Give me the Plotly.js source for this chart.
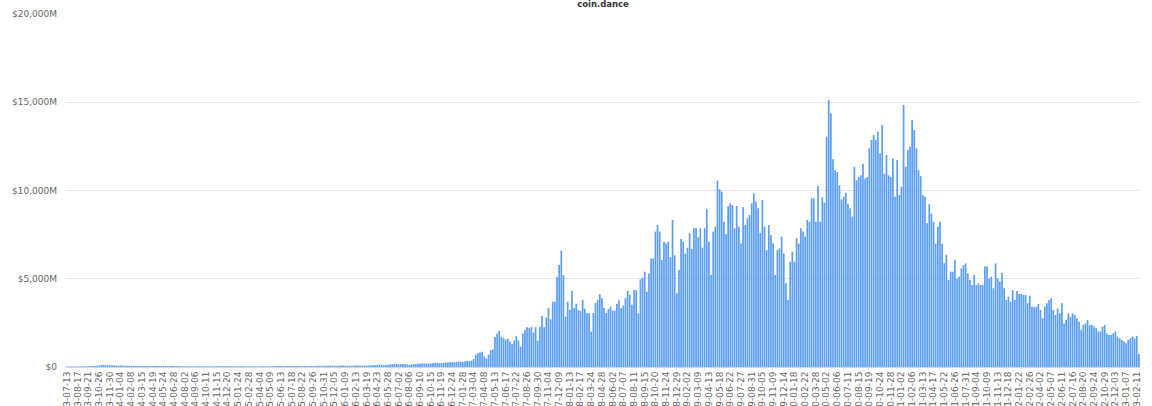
<!DOCTYPE html>
<html>
<head>
<meta charset="utf-8">
<script src="https://cdn.plot.ly/plotly-3.0.1.min.js"></script>
<style>
  html, body { margin: 0; padding: 0; background: #ffffff; }
  #chart { width: 1152px; height: 406px; }
</style>
</head>
<body>
<div id="chart"></div>
<script>
// Weekly series, first week 2013-07-13, values in $ millions
const startDate = "2013-07-13";
const valuesM = [
  // 2013-07 .. 2013-12
  25, 30, 28, 35, 32, 30, 38, 40, 36, 42, 45, 50, 55, 60, 70, 85, 110, 130, 120, 100, 95, 105, 90, 80, 85,
  // 2014 H1
  90, 80, 70, 75, 65, 60, 70, 65, 60, 58, 55, 62, 60, 55, 50, 58, 65, 70, 62, 60, 55, 52, 50, 55, 58, 52, 50,
  // 2014 H2
  48, 50, 45, 42, 48, 45, 40, 42, 45, 48, 44, 40, 42, 45, 40, 38, 42, 44, 46, 42, 40, 45, 48, 50, 46, 44,
  // 2015 H1
  45, 42, 48, 50, 46, 44, 40, 42, 45, 40, 38, 42, 40, 45, 48, 44, 42, 40, 44, 46, 50, 55, 52, 48, 50, 55,
  // 2015 H2
  60, 58, 55, 52, 50, 48, 52, 55, 50, 48, 52, 60, 65, 70, 75, 68, 65, 70, 75, 80, 78, 72, 70, 75, 80, 78,
  // 2016 H1
  75, 72, 70, 75, 78, 80, 85, 82, 78, 80, 85, 90, 95, 100, 110, 120,
  130, 120, 110, 115, 125, 140, 160, 180, 170, 150,
  160, 175, 165, 140, 130, 145, 160, 170, 180, 190,
  200, 210, 190, 185, 205, 220, 240, 230, 215, 225,
  245, 260, 250, 270, 280, 265, 290, 310, 300, 285,
  320, 350, 330, 360,
  // 2017 ..
  450, 700, 780, 820, 870, 600, 480, 700, 950, 1000,
  1700, 1900, 2040, 1700, 1650, 1550, 1600, 1450, 1300, 1500,
  1750, 1500, 1150, 1900, 2100, 2250, 2200, 2260, 1950, 2250,
  1500, 2260, 2900, 2250, 2800, 3350, 2700, 3700, 3700, 5100,
  5800, 6600, 5200, 2850, 3700, 3250, 4320, 3340, 3590, 3230,
  3170, 3800, 3300, 3040, 3060, 2000, 3060, 3620, 3800, 4130,
  3890, 3340, 3060, 3280, 3420, 3200, 3200, 3590, 3780, 3340,
  3480, 3890, 4320, 4090, 3530, 4360, 4360, 3040, 4970, 5060,
  5400, 4260, 5300, 6150, 6150, 7670, 8050, 7670, 6060, 7100,
  7000, 7100, 6230, 8330, 6330, 4170, 5500, 7250, 7100, 6420,
  6760, 7580, 6700, 7860, 7860, 7350, 7860, 6760, 7860, 8940,
  7100, 5210, 7670, 7950, 10560, 10070, 9940, 8230, 7530, 9120,
  9270, 9180, 7860, 9120, 7950, 7000, 9050, 8050, 8420, 8610,
  9270, 9840, 9370, 8990, 7600,
  9460, 7950, 6630, 8040, 7480, 7010, 5210, 6630, 6720, 7390,
  6440, 4740, 3800, 5970, 6530, 5970, 7290, 6990, 7860, 7670,
  7390, 8330, 8230, 9560, 9560, 8230, 10270, 8230, 9610, 9310,
  13050, 15130, 14370, 11770, 11150, 11050, 10300, 9500, 9650, 9870,
  9250, 8990, 8520, 11350, 10580, 10770, 10860, 11520, 10680, 10770,
  12390, 12860, 13150, 12860, 13340, 12110, 13710, 10960, 12010, 10860,
  10770, 11820, 9650, 11730, 9740, 10210, 14840, 11350, 12300, 12480,
  14000, 13430, 12390, 11150, 10810, 9740, 9650, 8140, 9220, 8690,
  8230, 6990, 7950, 8230, 6990, 5880, 6350, 4930, 5400, 5400,
  6060, 5020, 5120,
  5590, 5780, 5870, 5310, 4930, 4650, 5210, 4650, 4740, 4650,
  4650, 5690, 5690, 5020, 5120, 4460, 5870, 5020, 4840, 5340,
  4460, 3800, 3990, 3700, 4360, 3800, 4310, 4140, 4140, 4080,
  4080, 3610, 4030, 3420, 3380, 3420, 3570, 3230, 2760, 3420,
  3610, 3800, 3890, 3230, 2950, 3320, 3040, 3610, 2470, 2660,
  3040, 2850, 3040, 2950, 2760, 2570, 2100, 2380, 2470, 2660,
  2380, 2380, 2290, 2190, 2020, 2020, 2290, 2380, 1910, 1810,
  1810, 1910, 2020, 1720, 1620, 1530, 1440, 1340, 1530, 1620,
  1720, 1620, 1760, 740
];

const yTickVals = [0, 5000, 10000, 15000, 20000];
const yTickText = ["$0", "$5,000M", "$10,000M", "$15,000M", "$20,000M"];
const tickEvery = 5;

// weekly category labels
const weekDates = valuesM.map(function (_, i) {
  const t = Date.parse(startDate + "T00:00:00Z") + i * 7 * 86400000;
  return new Date(t).toISOString().slice(0, 10);
});
const tickDates = weekDates.filter(function (_, i) { return i % tickEvery === 0; });
// the reference shows only the visible tail of each date label (e.g. "3-07-13")
const tickLabels = tickDates.map(function (d) { return d.slice(3); });

const font = "DejaVu Sans, Verdana, sans-serif";

Plotly.newPlot("chart", [{
  type: "bar",
  x: weekDates,
  y: valuesM,
  marker: { color: "#5c9ff0", line: { width: 0 } },
  hoverinfo: "skip"
}], {
  width: 1152,
  height: 406,
  margin: { l: 66, r: 12, t: 14, b: 39, pad: 0 },
  paper_bgcolor: "#ffffff",
  plot_bgcolor: "#ffffff",
  bargap: 0.2,
  showlegend: false,
  title: {
    text: "<b>coin.dance</b>",
    font: { family: font, size: 8.5, color: "#333333" },
    x: 0.5, xref: "paper", xanchor: "center",
    y: 1, yref: "container", yanchor: "top",
    pad: { t: 1, b: 0 }
  },
  xaxis: {
    type: "category",
    range: [-0.5, valuesM.length - 0.5],
    tickmode: "array",
    tickvals: tickDates,
    ticktext: tickLabels,
    tickangle: -90,
    tickfont: { family: font, size: 9, color: "#666666" },
    showgrid: false,
    showline: true,
    linecolor: "#ccd6eb",
    linewidth: 1,
    ticks: "",
    automargin: false,
    zeroline: false
  },
  yaxis: {
    range: [0, 20000],
    tickmode: "array",
    tickvals: yTickVals,
    ticktext: yTickText,
    tickfont: { family: font, size: 9, color: "#666666" },
    showgrid: true,
    gridcolor: "#e6e6e6",
    gridwidth: 1,
    zeroline: false,
    showline: false,
    ticks: "",
    ticklabelstandoff: 8,
    automargin: false
  }
}, { staticPlot: true, displayModeBar: false });
</script>
</body>
</html>
